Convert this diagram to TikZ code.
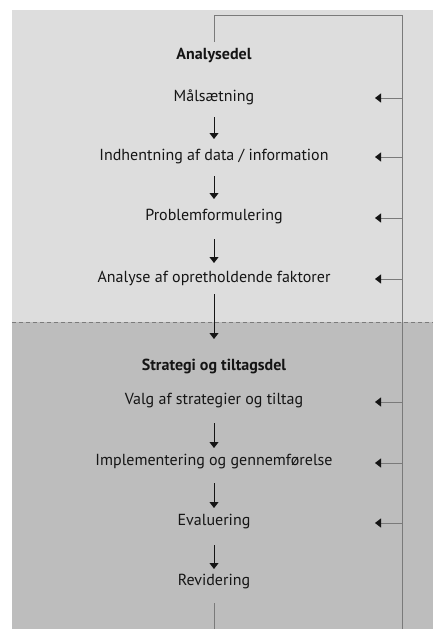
\documentclass[tikz,border=0pt]{standalone}
\usepackage{fontspec}
\setmainfont{PT Sans}
\usetikzlibrary{arrows.meta}
\definecolor{upperbg}{HTML}{DDDDDD}
\definecolor{lowerbg}{HTML}{BDBDBD}
\definecolor{railgray}{HTML}{7A7A7A}
\definecolor{inkdark}{HTML}{151515}
\tikzset{
  stage/.style={inner sep=0pt, font=\fontsize{16}{18}\selectfont, text=inkdark},
  head/.style={stage, font=\fontsize{16}{18}\selectfont\bfseries},
  down/.style={draw=inkdark, line width=1pt, -{Triangle[length=6pt,width=9pt]}},
  fb/.style={draw=railgray, line width=1pt, -{Triangle[length=6pt,width=9pt,color=inkdark]}},
  rail/.style={draw=railgray, line width=1pt}
}
\begin{document}
\begin{tikzpicture}[x=1pt,y=-1pt]
\useasboundingbox (0,0) rectangle (433,629);
% background panels
\fill[upperbg] (12,10) rectangle (433,322);
\fill[lowerbg] (12,322) rectangle (433,629);
\draw[railgray, line width=0.8pt, dash pattern=on 4pt off 3pt] (12,322) -- (433,322);

% stages
\node[head]  (A)  at (214,55)  {Analysedel};
\node[stage] (m)  at (214,97)  {Målsætning};
\node[stage] (i)  at (214,156) {Indhentning af data / information};
\node[stage] (p)  at (214,217) {Problemformulering};
\node[stage] (an) at (214,278) {Analyse af opretholdende faktorer};
\node[head]  (S)  at (214,366) {Strategi og tiltagsdel};
\node[stage] (v)  at (214,401) {Valg af strategier og tiltag};
\node[stage] (im) at (214,462) {Implementering og gennemførelse};
\node[stage] (e)  at (214,522) {Evaluering};
\node[stage] (r)  at (214,582) {Revidering};

% rail coordinates
\coordinate (railtop) at (402,15);
\coordinate (railbot) at (402,629);
\coordinate (tipx) at (375,0);
\coordinate (loopend) at (214,629);

% downward flow
\draw[down] ([yshift=-20pt]m.center)  -- ([yshift=17pt]i.center);
\draw[down] ([yshift=-20pt]i.center)  -- ([yshift=18pt]p.center);
\draw[down] ([yshift=-22pt]p.center)  -- ([yshift=15pt]an.center);
\draw[down] ([yshift=-16pt]an.center) -- ([yshift=27pt]S.center);
\draw[down] ([yshift=-22pt]v.center)  -- ([yshift=14pt]im.center);
\draw[down] ([yshift=-21pt]im.center) -- ([yshift=14pt]e.center);
\draw[down] ([yshift=-23pt]e.center)  -- ([yshift=13pt]r.center);

% feedback loop
\draw[rail] ([yshift=-21pt]r.center) -- (loopend);
\draw[rail] ([yshift=13pt]A.center) -- (A.center |- railtop) -- (railtop) -- (railbot);
\foreach \n in {m,i,p,an,v,im,e}
  \draw[fb] ([yshift=-1pt]\n.center -| railtop) -- ([yshift=-1pt]\n.center -| tipx);
\end{tikzpicture}
\end{document}
